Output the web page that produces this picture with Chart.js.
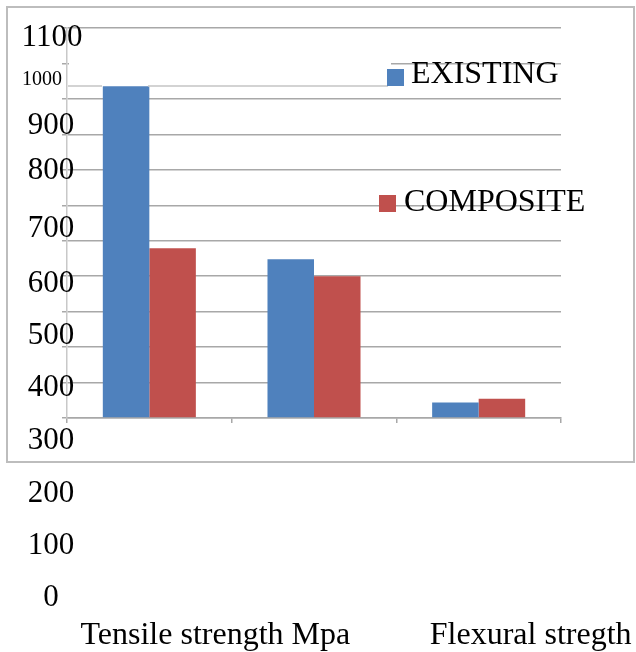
<!DOCTYPE html>
<html>
<head>
<meta charset="utf-8">
<script src="https://cdn.jsdelivr.net/npm/chart.js@4.4.1/dist/chart.umd.min.js"></script>
<style>
  html,body{margin:0;padding:0;background:#fff;}
  #wrap{position:relative;width:636px;height:652px;}
</style>
</head>
<body>
<div id="wrap"><canvas id="c" width="636" height="652"></canvas></div>
<script>
'use strict';

// ── DATA ─────────────────────────────────────────────
const categories = ['Tensile strength Mpa', '', 'Flexural stregth'];
const existing   = [936, 448, 44];
const composite  = [479, 400, 54];
const seriesNames = ['EXISTING', 'COMPOSITE'];
const yTickLabels = ['1100','1000','900','800','700','600','500','400','300','200','100','0'];

// ── LAYOUT (pasted-on text as in the scan) ───────────
const SERIF = "'Liberation Serif','DejaVu Serif',serif";
const yLabelPos  = [[52,38],[42,80],[51,126],[51,171],[51,229],[51,284],[51,336],[51,388],[51,441],[51,494],[51,546],[51,598]];
const yLabelSize = [31,20,31,31,31,31,31,31,31,31,31,31];
const xLabelShift = [66, 0, 52];
const legendPos = [[387,69,411,75],[379,195,404,203]];
const COLORS = ['#4f81bd', '#c0504d'];

const overlay = {
  id:'overlay',
  beforeDraw(chart){
    const {ctx}=chart;
    ctx.save();
    ctx.fillStyle='#fff';
    ctx.fillRect(0,0,chart.width,chart.height);
    ctx.restore();
  },
  afterDatasetsDraw(chart){
    const {ctx,scales:{x}}=chart;
    ctx.save();
    // patch over part of the 1000 line (scan artefact)
    ctx.fillStyle='#fff';
    ctx.fillRect(69,54,322,31);
    ctx.strokeStyle='#c4c4c4'; ctx.lineWidth=1.5;
    ctx.beginPath(); ctx.moveTo(68,86); ctx.lineTo(102,86); ctx.stroke();
    ctx.beginPath(); ctx.moveTo(148,86); ctx.lineTo(388,86); ctx.stroke();

    // frame
    ctx.strokeStyle='#bdbdbd'; ctx.lineWidth=2;
    ctx.strokeRect(7,7,627,455);

    ctx.fillStyle='#000';
    ctx.textAlign='center'; ctx.textBaseline='middle';
    yTickLabels.forEach((t,i)=>{
      ctx.font=`${yLabelSize[i]}px ${SERIF}`;
      ctx.fillText(t,yLabelPos[i][0],yLabelPos[i][1]);
    });
    ctx.font=`32px ${SERIF}`;
    categories.forEach((c,i)=>{
      if(!c) return;
      ctx.fillText(c,x.getPixelForValue(i)+xLabelShift[i],636);
    });
    // legend
    ctx.textAlign='left';
    seriesNames.forEach((n,i)=>{
      const [sx,sy,tx,ty]=legendPos[i];
      ctx.fillStyle=COLORS[i];
      ctx.fillRect(sx,sy,17,17);
      ctx.fillStyle='#000';
      ctx.fillText(n,tx,ty);
    });
    ctx.restore();
  }
};

new Chart(document.getElementById('c').getContext('2d'),{
  type:'bar',
  data:{
    labels:categories,
    datasets:[
      {label:seriesNames[0],data:existing,backgroundColor:COLORS[0],borderWidth:0,categoryPercentage:0.565,barPercentage:1},
      {label:seriesNames[1],data:composite,backgroundColor:COLORS[1],borderWidth:0,categoryPercentage:0.565,barPercentage:1}
    ]
  },
  options:{
    responsive:false,
    animation:false,
    devicePixelRatio:1,
    layout:{padding:{left:0,top:28,right:75,bottom:0}},
    plugins:{legend:{display:false},tooltip:{enabled:false}},
    scales:{
      x:{
        ticks:{display:false},
        grid:{offset:true,drawOnChartArea:false,color:'#a8a8a8',lineWidth:1.5,tickLength:5},
        border:{color:'#a8a8a8',width:1.5},
        afterFit:s=>{s.height=234;}
      },
      y:{
        min:0,max:1100,
        ticks:{display:false,stepSize:100},
        grid:{color:'#a8a8a8',lineWidth:1.5,tickLength:5},
        border:{color:'#c8c8c8',width:1.5},
        afterFit:s=>{s.width=67;}
      }
    }
  },
  plugins:[overlay]
});
</script>
</body>
</html>
